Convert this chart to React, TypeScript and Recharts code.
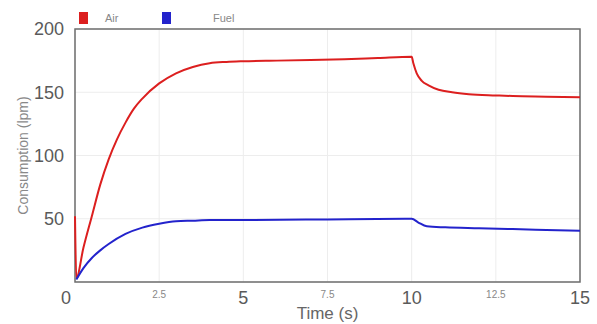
import React from 'react';
import {
  LineChart,
  Line,
  XAxis,
  YAxis,
  CartesianGrid,
  ReferenceArea,
} from 'recharts';

const timeTicks = [0, 2.5, 5, 7.5, 10, 12.5, 15];
const consumptionTicks = [50, 100, 150, 200];

const airTime = [0, 0.04, 0.25, 0.5, 0.75, 1, 1.25, 1.5, 1.75, 2, 2.5, 3, 3.5, 4, 4.5, 5, 6, 7, 8, 9, 10, 10.05, 10.15, 10.3, 10.5, 10.8, 11.2, 11.7, 12.5, 13, 14, 15];
const airFlow = [52, 3, 27, 52, 77, 97, 113, 126, 137, 145, 157, 165, 170, 173, 174, 174.5, 175, 175.5, 176, 177, 178, 173, 165, 159, 155.5, 152, 150, 148.5, 147.5, 147, 146.5, 146];

const fuelTime = [0.04, 0.25, 0.5, 0.75, 1, 1.5, 2, 2.5, 3, 3.5, 4, 5, 7.5, 10, 10.2, 10.45, 11, 12, 13, 14, 15];
const fuelFlow = [2, 11, 19, 25, 30, 38, 43, 46, 48, 48.5, 49, 49, 49.5, 50, 47, 44, 43.2, 42.5, 41.8, 41.2, 40.6];

const AIR_COLOR = '#dc1f1f';
const FUEL_COLOR = '#2323cc';

const airData = airTime.map((t, i) => ({ t, v: airFlow[i] }));
const fuelData = fuelTime.map((t, i) => ({ t, v: fuelFlow[i] }));

function TimeTick({ x, y, payload }: any) {
  const major = payload.value % 5 === 0;
  const dx = payload.value === 0 ? -9 : 0;
  return (
    <text
      x={x + dx}
      y={major ? y + 9 : y + 5}
      textAnchor="middle"
      dominantBaseline="middle"
      fontSize={major ? 18 : 10}
      fill={major ? '#5a5a5a' : '#888'}
    >
      {payload.value}
    </text>
  );
}

function LegendBox() {
  const items = [
    { name: 'Air', color: AIR_COLOR, width: 83, gap: 17 },
    { name: 'Fuel', color: FUEL_COLOR, width: 90, gap: 42 },
  ];
  return (
    <div style={{ position: 'absolute', top: 12, left: 79, display: 'flex' }}>
      {items.map((it) => (
        <div key={it.name} style={{ width: it.width, display: 'flex', alignItems: 'center' }}>
          <span style={{ width: 9, height: 12, background: it.color, display: 'inline-block' }} />
          <span style={{ marginLeft: it.gap, fontSize: 11, color: '#888' }}>{it.name}</span>
        </div>
      ))}
    </div>
  );
}

export default function App() {
  return (
    <div style={{ position: 'relative', width: 597, height: 324, fontFamily: '"Liberation Sans", Arial, sans-serif' }}>
      <style>{'body{margin:0}'}</style>
      <LineChart width={597} height={324} margin={{ top: 29, right: 17, bottom: 0, left: 0 }}>
        <CartesianGrid stroke="#ededed" vertical horizontal />
        <XAxis
          type="number"
          dataKey="t"
          domain={[0, 15]}
          ticks={timeTicks}
          height={42}
          tick={<TimeTick />}
          tickLine={false}
          axisLine={false}
          allowDuplicatedCategory={false}
          label={{ value: 'Time (s)', position: 'insideBottom', offset: 5, fontSize: 17, fill: '#666' }}
        />
        <YAxis
          type="number"
          domain={[0, 200]}
          ticks={consumptionTicks}
          width={75}
          tickLine={false}
          axisLine={false}
          tickMargin={5}
          tick={{ fontSize: 18, fill: '#5a5a5a' }}
          label={{ value: 'Consumption (lpm)', angle: -90, position: 'center', dx: -14, fontSize: 14, fill: '#888' }}
        />
        <ReferenceArea x1={0} x2={15} y1={0} y2={200} fill="none" stroke="#6e6e6e" strokeWidth={1.5} ifOverflow="visible" />
        <Line data={airData} dataKey="v" name="Air" type="monotone" stroke={AIR_COLOR} strokeWidth={2} dot={false} isAnimationActive={false} />
        <Line data={fuelData} dataKey="v" name="Fuel" type="monotone" stroke={FUEL_COLOR} strokeWidth={2} dot={false} isAnimationActive={false} />
      </LineChart>
      <LegendBox />
    </div>
  );
}
